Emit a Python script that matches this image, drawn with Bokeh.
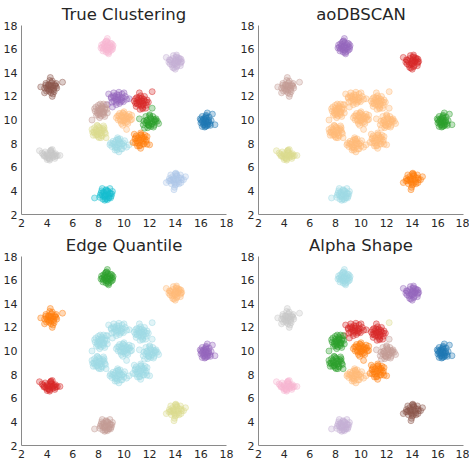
from bokeh.plotting import figure
from bokeh.layouts import gridplot
from bokeh.models import ColumnDataSource, FixedTicker
from bokeh.embed import file_html
from bokeh.resources import INLINE

# ---------------- data ----------------
pink_x = [8.65,8.5,8.8,8.9,8.4,8.6,8.75,9.0,8.55,8.7,8.45,8.85,9.1,8.3,8.6,8.95,8.7,8.5,8.8,8.65,9.15,8.4,8.7,8.9,
          8.25,9.05,8.35,9.0,8.6,8.75,8.2,9.1]
pink_y = [16.2,16.4,16.1,16.35,16.0,15.95,16.55,16.2,16.6,16.9,16.25,15.8,16.0,16.15,15.75,16.5,16.3,16.1,15.6,16.7,16.3,16.45,15.9,16.05,
          16.35,16.45,15.85,15.9,16.65,15.7,16.1,16.15]
lavender_x = [14.0,13.8,14.2,14.3,13.9,14.1,13.7,14.4,13.3,14.0,13.85,14.15,14.25,13.95,14.05,13.6,14.35,14.1,13.9,14.2,14.0,13.75,14.45,14.05,
              13.55,14.45,13.6,14.4,14.1,13.8,13.5,14.5]
lavender_y = [15.0,15.2,14.9,15.1,14.7,15.35,14.95,14.8,15.3,14.3,15.45,14.6,15.25,14.85,15.1,15.05,15.2,14.5,14.4,15.0,14.75,14.65,14.9,15.3,
              15.1,15.15,14.75,14.6,15.5,14.45,14.9,14.95]
brown_x = [4.3,4.1,4.45,4.2,4.5,4.35,4.0,4.6,3.5,5.2,4.25,3.8,4.4,4.15,4.55,4.3,3.9,4.7,4.05,4.4,4.2,4.5,4.3,4.1,
           3.9,4.75,3.95,4.7,4.2,4.45,3.8,4.6]
brown_y = [12.8,13.0,12.9,12.6,12.7,13.15,12.75,13.0,12.8,13.2,13.6,12.3,12.0,12.45,12.4,12.55,13.1,12.85,12.6,13.3,12.95,12.55,12.3,12.9,
           12.95,12.7,12.45,13.1,13.35,12.2,12.7,12.9]
purple_x = [9.5,9.3,9.7,9.6,9.2,9.9,9.4,8.8,10.0,9.1,8.7,10.4,9.55,9.35,9.75,9.0,9.45,9.85,9.65,9.25,10.1,9.5,9.8,9.15,
            9.0,9.95,9.2,9.85,9.4,9.05,10.2,9.6]
purple_y = [11.8,12.0,11.7,12.1,11.6,11.9,11.5,12.2,12.3,11.1,11.3,11.8,11.95,11.75,11.55,11.85,12.15,11.65,11.4,11.9,12.0,11.65,11.85,12.05,
            11.95,11.55,12.3,12.2,11.3,11.5,11.75,12.35]
red_x = [11.3,11.1,11.5,11.4,11.2,11.6,11.0,12.2,11.2,11.7,10.8,11.35,11.55,11.15,11.45,11.25,11.75,11.05,11.4,11.6,11.3,11.5,10.9,11.2,
         10.9,11.8,11.0,11.75,11.3,11.45,10.95,11.9]
red_y = [11.5,11.7,11.4,11.85,11.3,11.6,11.45,12.4,12.3,11.0,11.6,11.2,11.75,11.9,11.05,10.9,11.5,11.35,11.6,12.0,11.8,11.25,11.8,11.55,
         11.4,11.7,11.9,11.25,12.05,10.95,11.15,11.5]
ltbrown_x = [8.2,8.0,8.4,8.3,8.1,8.5,7.9,8.6,7.8,8.1,7.5,8.4,8.25,8.05,8.35,8.15,7.95,8.45,8.2,8.0,8.3,8.55,8.1,8.25,
             7.75,8.65,7.85,8.5,8.0,8.4,7.7,8.7]
ltbrown_y = [10.8,11.0,10.7,11.1,10.5,10.9,10.6,11.3,11.1,10.2,10.0,10.45,11.2,10.85,10.55,11.35,10.75,10.65,10.35,10.45,10.95,11.05,10.65,11.0,
             10.75,10.9,10.4,10.3,11.25,11.35,10.95,10.6]
center_x = [10.0,9.8,10.2,10.1,9.9,10.3,9.7,9.4,10.6,10.2,9.8,10.4,10.05,9.85,10.25,9.95,10.15,9.6,10.5,10.0,9.75,10.35,9.9,10.1,
            9.55,10.45,9.65,10.3,10.0,9.9,10.6,9.5]
center_y = [10.2,10.4,10.1,10.45,9.95,10.3,10.05,10.2,10.4,9.2,9.7,10.5,10.0,10.25,9.85,10.55,10.3,10.35,10.0,9.9,9.9,10.15,10.6,9.75,
            10.0,10.25,10.55,9.7,10.7,9.55,10.05,10.35]
green_x = [12.0,11.8,12.2,12.1,11.9,12.3,11.7,12.2,11.2,12.7,11.6,12.3,12.05,11.85,12.25,11.95,12.15,12.45,11.75,12.0,12.35,11.9,12.1,12.5,
           11.55,12.45,11.7,12.35,12.0,11.85,12.6,11.5]
green_y = [9.8,10.0,9.7,10.1,9.6,9.9,9.75,11.0,10.1,9.7,9.3,9.4,10.2,9.85,10.3,9.5,9.65,9.85,9.95,10.35,10.05,9.6,9.45,10.1,
           9.9,10.0,10.3,9.55,10.45,9.35,9.9,9.6]
blue_x = [16.4,16.2,16.5,16.3,16.35,16.6,16.1,16.5,16.9,17.1,16.0,16.3,16.45,16.25,16.55,16.15,16.4,16.7,16.3,16.5,16.2,16.6,16.35,16.45,
          16.0,16.8,16.1,16.75,16.4,16.1,16.65,15.95]
blue_y = [9.9,10.1,9.8,9.6,10.2,10.0,9.85,10.6,10.5,9.6,10.0,9.4,9.5,9.75,9.55,9.95,10.3,9.7,10.05,9.65,9.6,9.85,9.45,10.15,
          9.75,9.95,10.3,9.55,10.4,9.45,10.25,10.1]
olive_x = [8.0,7.8,8.2,8.1,7.9,8.3,7.7,7.5,8.4,8.2,8.6,7.8,8.05,7.85,8.25,7.95,8.15,8.5,7.65,8.0,8.35,7.9,8.1,8.45,
           7.55,8.45,7.7,8.3,7.9,8.05,7.6,8.55]
olive_y = [9.0,9.2,8.9,9.3,8.8,9.1,8.95,9.2,9.5,8.5,8.5,8.7,9.4,9.05,8.7,9.5,9.15,8.95,9.0,8.6,9.25,8.75,8.85,9.35,
           8.95,9.15,9.35,8.65,9.55,8.5,8.7,8.85]
ltcyan_x = [9.5,9.3,9.7,9.6,9.4,9.8,9.2,9.5,8.9,10.2,9.6,10.0,9.55,9.35,9.75,9.45,9.65,9.1,9.85,9.5,9.3,9.7,9.4,10.4,
            9.05,9.95,9.15,9.85,9.55,9.3,10.05,8.95]
ltcyan_y = [7.9,8.1,7.8,8.2,7.7,8.0,7.95,8.5,7.9,7.7,7.3,7.8,8.35,7.75,7.55,7.45,8.05,8.0,7.95,7.6,7.65,8.4,8.3,7.9,
            7.75,8.05,8.2,7.55,8.35,7.45,8.25,8.05]
orange_x = [11.3,11.1,11.5,11.4,11.2,11.6,11.0,10.8,11.8,12.0,11.3,10.7,11.35,11.15,11.55,11.25,11.45,11.7,11.05,11.3,11.5,11.2,11.65,10.9,
            10.85,11.75,10.95,11.8,11.3,11.05,11.55,10.9]
orange_y = [8.3,8.5,8.2,8.6,8.1,8.4,8.25,8.8,8.6,7.9,7.6,8.1,8.75,8.35,7.95,7.85,8.45,8.15,8.05,8.9,8.0,7.8,8.7,8.5,
            8.4,8.3,8.65,7.95,8.75,7.8,8.55,8.05]
grey_x = [4.2,4.0,4.4,4.3,4.1,4.5,3.9,3.4,4.4,5.0,4.2,3.7,4.25,4.05,4.45,4.15,4.35,4.6,3.8,4.2,4.55,4.0,4.7,4.3,
          3.75,4.65,3.85,4.6,4.3,4.0,4.8,3.6]
grey_y = [7.0,7.15,6.95,7.25,6.8,7.05,6.9,7.4,7.5,7.0,6.7,7.1,7.35,7.05,6.85,6.75,7.2,6.9,7.0,6.6,7.1,6.8,6.95,7.4,
          6.95,7.15,7.3,6.75,7.45,6.65,7.0,7.2]
ltblue_x = [14.0,13.8,14.2,14.1,13.9,14.3,13.7,14.0,14.8,13.3,13.9,14.3,14.05,13.85,14.25,13.95,14.15,14.5,13.6,14.0,14.4,13.8,14.1,13.95,
            13.55,14.45,13.65,14.45,14.1,13.7,14.65,13.5]
ltblue_y = [5.0,5.2,4.9,5.3,4.8,5.1,4.95,5.45,5.2,4.7,4.1,4.6,5.5,5.05,4.75,4.65,5.25,4.95,4.85,4.5,5.35,4.9,4.6,4.3,
            5.05,5.1,5.35,4.7,5.4,4.6,4.95,4.85]
cyan_x = [8.6,8.4,8.8,8.7,8.5,8.9,8.3,8.3,8.9,7.7,8.5,9.0,8.65,8.45,8.85,8.55,8.75,8.4,8.95,8.6,8.2,8.8,8.5,8.7,
          8.15,9.05,8.25,8.95,8.6,8.35,9.1,8.1]
cyan_y = [3.7,3.9,3.6,4.0,3.5,3.8,3.65,4.2,4.2,3.4,3.2,3.55,3.35,3.85,3.45,3.3,3.95,3.55,3.75,4.05,3.8,3.4,3.6,3.25,
          3.65,3.75,4.0,3.4,4.1,3.3,3.95,3.45]

CLUSTERS_X = [pink_x, lavender_x, brown_x, purple_x, red_x, ltbrown_x, center_x, green_x,
              blue_x, olive_x, ltcyan_x, orange_x, grey_x, ltblue_x, cyan_x]
CLUSTERS_Y = [pink_y, lavender_y, brown_y, purple_y, red_y, ltbrown_y, center_y, green_y,
              blue_y, olive_y, ltcyan_y, orange_y, grey_y, ltblue_y, cyan_y]

# labels found by each method for each true cluster (label = palette index)
TRUE_LABELS = [13, 9, 10, 8, 6, 11, 3, 4, 0, 17, 19, 2, 15, 1, 18]
AODBSCAN_LABELS = [8, 6, 11, 3, 3, 3, 3, 3, 4, 3, 3, 3, 17, 2, 19]
EDGE_LABELS = [4, 3, 2, 19, 19, 19, 19, 19, 8, 19, 19, 19, 6, 17, 11]
ALPHA_LABELS = [19, 8, 15, 6, 6, 4, 2, 11, 0, 4, 3, 2, 13, 10, 9]
ALPHA_OUTLIER = (4, 7, 17)   # (cluster, point, label) - single odd point

TITLES = ["True Clustering", "aoDBSCAN", "Edge Quantile", "Alpha Shape"]
TICKS = [2, 4, 6, 8, 10, 12, 14, 16, 18]

PALETTE = ["#1f77b4", "#aec7e8", "#ff7f0e", "#ffbb78", "#2ca02c", "#98df8a", "#d62728", "#ff9896",
           "#9467bd", "#c5b0d5", "#8c564b", "#c49c94", "#e377c2", "#f7b6d2", "#7f7f7f", "#c7c7c7",
           "#bcbd22", "#dbdb8d", "#17becf", "#9edae5"]


def make_panel(title, labels, width, border_right, outlier=None):
    xs, ys, cs = [], [], []
    for ci, (cx, cy) in enumerate(zip(CLUSTERS_X, CLUSTERS_Y)):
        for pi, (x, y) in enumerate(zip(cx, cy)):
            lab = labels[ci]
            if outlier is not None and outlier[0] == ci and outlier[1] == pi:
                lab = outlier[2]
            xs.append(x)
            ys.append(y)
            cs.append(PALETTE[lab])
    src = ColumnDataSource(dict(x=xs, y=ys, c=cs))
    p = figure(width=width, height=231, x_range=(2, 18), y_range=(2, 18),
               output_backend="svg", toolbar_location=None,
               min_border_left=21, min_border_right=border_right,
               min_border_top=25, min_border_bottom=17,
               title=title)
    p.title.align = "center"
    p.title.text_font = "DejaVu Sans"
    p.title.text_font_size = "16.5px"
    p.title.text_font_style = "normal"
    p.title.text_color = "#262626"
    p.title.standoff = 3
    p.outline_line_color = None
    p.grid.visible = False
    p.background_fill_color = "white"
    p.border_fill_color = "white"
    for ax in (p.xaxis[0], p.yaxis[0]):
        ax.ticker = FixedTicker(ticks=TICKS)
        ax.axis_line_color = "#8a8a8a"
        ax.axis_line_width = 1
        ax.major_tick_out = 0
        ax.major_tick_in = 0
        ax.minor_tick_out = 0
        ax.minor_tick_in = 0
        ax.major_label_text_font = "DejaVu Sans"
        ax.major_label_text_font_size = "11px"
        ax.major_label_text_color = "#262626"
        ax.major_label_standoff = 4
    p.scatter("x", "y", source=src, size=6, fill_color="c", line_color="c",
              fill_alpha=0.3, line_alpha=0.45, line_width=1)
    return p


p1 = make_panel(TITLES[0], TRUE_LABELS, 237, 11)
p2 = make_panel(TITLES[1], AODBSCAN_LABELS, 232, 6)
p3 = make_panel(TITLES[2], EDGE_LABELS, 237, 11)
p4 = make_panel(TITLES[3], ALPHA_LABELS, 232, 6, outlier=ALPHA_OUTLIER)

grid = gridplot([[p1, p2], [p3, p4]], toolbar_location=None)

open("out.html", "w").write(file_html(grid, INLINE))
